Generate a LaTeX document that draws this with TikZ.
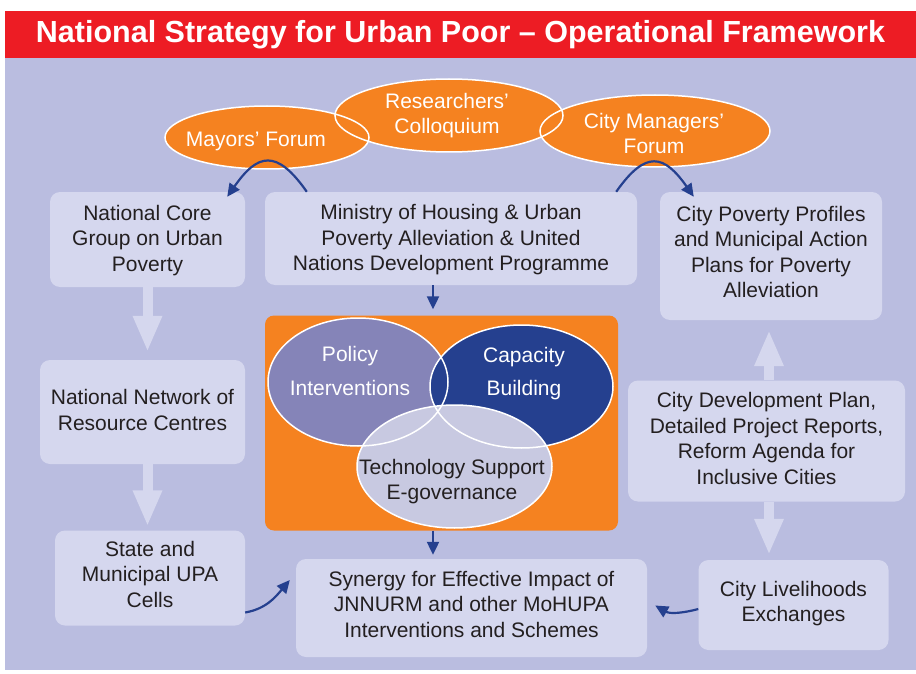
\documentclass[tikz,border=0pt]{standalone}
\usepackage{fontspec}
\setmainfont{Liberation Sans}
\usetikzlibrary{arrows.meta,shapes.geometric}
\definecolor{bgl}{RGB}{186,189,224}
\definecolor{boxf}{RGB}{213,215,238}
\definecolor{org}{RGB}{245,130,32}
\definecolor{redb}{RGB}{237,28,36}
\definecolor{dblue}{RGB}{37,64,143}
\definecolor{polc}{RGB}{133,132,184}
\definecolor{techc}{RGB}{200,201,225}
\definecolor{txt}{RGB}{35,31,32}
\begin{document}
\begin{tikzpicture}[x=1pt,y=1pt,
  box/.style={fill=boxf, rounded corners=10pt, inner sep=0pt},
  btext/.style={align=center, text=txt, inner sep=0pt, font=\fontsize{21}{25.5}\selectfont},
  oval/.style={ellipse, fill=org, inner sep=0pt},
  ovlab/.style={align=center, text=white, inner sep=0pt, font=\fontsize{21}{25.5}\selectfont},
  venn/.style={ellipse, inner sep=0pt},
  outl/.style={draw=white, line width=1.5pt},
  darr/.style={draw=dblue, line width=2.2pt, -{Triangle[length=13pt,width=12pt]}},
  parr/.style={draw=boxf, line width=10pt, -{Triangle[length=36pt,width=27pt]}}
]
% background
\fill[white] (0,0) rectangle (916,-674);
\fill[redb] (5,-11) rectangle (916,-58);
\fill[bgl] (5,-58) rectangle (916,-670);
\node[font=\fontsize{30.5}{36}\selectfont\bfseries, text=white, inner sep=0pt] (title) at (460.5,-35) {National Strategy for Urban Poor – Operational Framework};

% boxes
\node[box, minimum width=195pt, minimum height=95pt] (core) at (147.5,-239.5) {};
\node[btext] (coreT) at ([yshift=-1pt]core.center) {National Core\\Group on Urban\\Poverty};
\node[box, minimum width=372pt, minimum height=93pt] (ministry) at (451,-238.5) {};
\node[btext] (ministryT) at ([yshift=-1.5pt]ministry.center) {Ministry of Housing \& Urban\\Poverty Alleviation \& United\\Nations Development Programme};
\node[box, minimum width=222pt, minimum height=128pt] (profiles) at (771,-256) {};
\node[btext] (profilesT) at ([yshift=4pt]profiles.center) {City Poverty Profiles\\and Municipal Action\\Plans for Poverty\\Alleviation};
\node[box, minimum width=205pt, minimum height=104pt] (network) at (142.5,-412) {};
\node[btext] (networkT) at ([yshift=2pt]network.center) {National Network of\\Resource Centres};
\node[box, minimum width=190pt, minimum height=95pt] (state) at (150,-578) {};
\node[btext] (stateT) at ([yshift=4pt]state.center) {State and\\Municipal UPA\\Cells};
\node[box, minimum width=351pt, minimum height=98pt] (synergy) at (471.5,-608) {};
\node[btext] (synergyT) at ([yshift=4pt]synergy.center) {Synergy for Effective Impact of\\JNNURM and other MoHUPA\\Interventions and Schemes};
\node[box, minimum width=277pt, minimum height=121pt] (citydev) at (766.5,-441) {};
\node[btext] (citydevT) at ([yshift=2.5pt]citydev.center) {City Development Plan,\\Detailed Project Reports,\\Reform Agenda for\\Inclusive Cities};
\node[box, minimum width=190pt, minimum height=90pt] (liveli) at (793.5,-605) {};
\node[btext] (liveliT) at ([yshift=1.5pt]liveli.center) {City Livelihoods\\Exchanges};

% orange box with venn
\node[fill=org, rounded corners=9pt, minimum width=353pt, minimum height=215pt, inner sep=0pt] (orange) at (441.5,-423) {};
\node[venn, fill=polc, minimum width=180pt, minimum height=128pt] (policy) at (358,-382) {};
\node[venn, fill=dblue, minimum width=183pt, minimum height=123pt] (capacity) at (521.5,-386.5) {};
\node[venn, fill=techc, minimum width=195pt, minimum height=123pt] (tech) at (454.5,-466.5) {};
\node[venn, outl, minimum width=180pt, minimum height=128pt] (policyO) at (358,-382) {};
\node[venn, outl, minimum width=183pt, minimum height=123pt] (capacityO) at (521.5,-386.5) {};
\node[venn, outl, minimum width=195pt, minimum height=123pt] (techO) at (454.5,-466.5) {};
\node[ovlab, font=\fontsize{21}{34}\selectfont] (policyT) at (350,-370.5) {Policy\\Interventions};
\node[ovlab, font=\fontsize{21}{33}\selectfont] (capacityT) at (524,-374) {Capacity\\Building};
\node[ovlab, text=txt] (techT) at (452,-481.5) {Technology Support\\E-governance};

% top ellipses
\node[oval, minimum width=204pt, minimum height=63pt] (mayors) at (267,-137.5) {};
\node[oval, minimum width=228pt, minimum height=73pt] (research) at (449,-115.5) {};
\node[oval, minimum width=230pt, minimum height=72pt] (citymgr) at (655,-131) {};
\node[venn, outl, minimum width=204pt, minimum height=63pt] (mayorsO) at (267,-137.5) {};
\node[venn, outl, minimum width=228pt, minimum height=73pt] (researchO) at (449,-115.5) {};
\node[venn, outl, minimum width=230pt, minimum height=72pt] (citymgrO) at (655,-131) {};
\node[ovlab] (mayorsT) at (256,-141) {Mayors’ Forum};
\node[ovlab] (researchT) at (447,-115.5) {Researchers’\\Colloquium};
\node[ovlab] (citymgrT) at (654,-133.5) {City Managers’\\Forum};

% pale thick arrows
\draw[parr, shorten >=8pt] (core.south) -- (core.south |- network.north);
\draw[parr, shorten >=4pt] (core.south |- network.south) -- (core.south |- state.north);
\draw[parr, shorten >=10pt] ([xshift=2.5pt]citydev.north) -- ([xshift=2.5pt]citydev.north |- profiles.south);
\draw[parr, shorten >=5pt] ([xshift=2.5pt]citydev.south) -- ([xshift=2.5pt]citydev.south |- liveli.north);

% dark blue arrows
\draw[darr] ([xshift=-18pt]ministry.south) -- ([xshift=-8.5pt,yshift=6pt]orange.north);
\draw[darr] ([xshift=-8.5pt]orange.south) -- ([xshift=-38.5pt,yshift=4pt]synergy.north);
\draw[darr] ([xshift=42pt]ministry.north west) to[out=125,in=55,looseness=1.7] ([xshift=-18pt,yshift=-5pt]core.north east);
\draw[darr] ([xshift=-21pt]ministry.north east) to[out=55,in=125,looseness=1.7] ([xshift=34pt,yshift=-5pt]profiles.north west);
\draw[darr] ([yshift=-34.5pt]state.east) to[out=10,in=230] ([xshift=-6pt,yshift=28pt]synergy.west);
\draw[darr] ([yshift=-4pt]liveli.west) to[out=195,in=-30] ([xshift=8pt,yshift=2.5pt]synergy.east);
\end{tikzpicture}
\end{document}
